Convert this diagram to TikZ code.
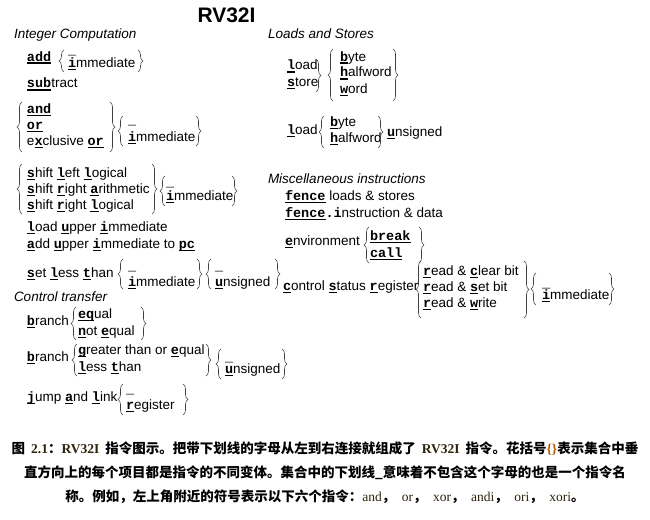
\documentclass[tikz,border=0pt]{standalone}
\usepackage{fontspec}
\usetikzlibrary{decorations.pathreplacing}
\setmainfont{Liberation Sans}
\newfontfamily\cwf{Liberation Mono}
\newfontfamily\cjk{Noto Sans CJK SC}
\newfontfamily\tms{Liberation Serif}
\newcommand\cwb{\cwf\bfseries}
\newcommand\U[1]{{\cwb\setbox0\hbox{#1}\rlap{\rule[-2.6pt]{\wd0}{1.1pt}}\box0}}
\newcommand\Bl{{\cwb\_}}
\definecolor{capbrown}{RGB}{45,35,12}
\newcommand\LB[3]{\draw[br] ({#1+5},#3) -- ({#1+5},#2);}
\newcommand\RB[3]{\draw[br] ({#1-5},#2) -- ({#1-5},#3);}
\newcommand\lat[1]{{\tms\mdseries\color{capbrown}#1}}
\newcommand\cm{{\cjk ，}\hspace{6.5pt}}
\begin{document}
\begin{tikzpicture}[x=1pt,y=-1pt,
  txt/.style={anchor=base west,inner sep=0pt,outer sep=0pt,font=\fontsize{13.5}{16}\selectfont},
  hd/.style={txt,font=\fontsize{13.5}{16}\selectfont\itshape},
  ttl/.style={anchor=base,inner sep=0pt,font=\fontsize{21}{24}\selectfont\bfseries},
  br/.style={draw=black!75,line width=0.6pt,decorate,decoration={brace,amplitude=5pt}},
  captxt/.style={anchor=base,inner sep=0pt,font=\fontsize{13.5}{16}\selectfont\bfseries}]
\path[use as bounding box,fill=white] (0,0) rectangle (650,519);
% title
\node[ttl] (title) at (226.5,23) {RV32I};
% ---------- Integer computation
\node[hd] (intc) at (14,38) {Integer Computation};
\node[txt] (add) at (27,61) {\U{add}};
\node[txt] (addbl) at (68,55) {\Bl};
\node[txt] (addi) at (68,67) {\U{i}mmediate};
\LB{59}{50}{72}\RB{143}{50}{72}
\node[txt] (sub) at (27,88) {\U{sub}tract};
\node[txt] (and) at (27,113) {\U{and}};
\node[txt] (or) at (27,129) {\U{or}};
\node[txt] (xor) at (27,145) {e\U{x}clusive \U{or}};
\LB{17}{102}{152}\RB{115}{102}{152}
\node[txt] (logbl) at (128,124) {\Bl};
\node[txt] (logi) at (128,141) {\U{i}mmediate};
\LB{118}{116}{146}\RB{201}{116}{146}
\node[txt] (sll) at (27,177) {\U{s}hift \U{l}eft \U{l}ogical};
\node[txt] (sra) at (27,193) {\U{s}hift \U{r}ight \U{a}rithmetic};
\node[txt] (srl) at (27,209) {\U{s}hift \U{r}ight \U{l}ogical};
\LB{17}{164}{214}\RB{157}{164}{214}
\node[txt] (shbl) at (166,186) {\Bl};
\node[txt] (shi) at (166,200) {\U{i}mmediate};
\LB{160}{176}{206}\RB{237}{176}{206}
\node[txt] (lui) at (27,231) {\U{l}oad \U{u}pper \U{i}mmediate};
\node[txt] (auipc) at (27,248) {\U{a}dd \U{u}pper \U{i}mmediate to \U{pc}};
\node[txt] (slt) at (27,277) {\U{s}et \U{l}ess \U{t}han};
\node[txt] (sltbl) at (128,270) {\Bl};
\node[txt] (slti) at (128,286) {\U{i}mmediate};
\LB{118}{259}{289}\RB{202}{259}{289}
\node[txt] (sltbl2) at (215,270) {\Bl};
\node[txt] (sltu) at (215,286) {\U{u}nsigned};
\LB{206}{259}{289}\RB{280}{259}{289}
% ---------- Control transfer
\node[hd] (ctrl) at (14,301) {Control transfer};
\node[txt] (br1) at (27,325) {\U{b}ranch};
\node[txt] (beq) at (78,318) {\U{eq}ual};
\node[txt] (bne) at (78,335) {\U{n}ot \U{e}qual};
\LB{71}{307}{340}\RB{146}{307}{340}
\node[txt] (br2) at (27,361) {\U{b}ranch};
\node[txt] (bge) at (78,354) {\U{g}reater than or \U{e}qual};
\node[txt] (blt) at (78,371) {\U{l}ess \U{t}han};
\LB{72}{344}{376}\RB{211}{344}{376}
\node[txt] (bbl) at (225,361) {\Bl};
\node[txt] (bu) at (225,373) {\U{u}nsigned};
\LB{216}{349}{379}\RB{287}{349}{379}
\node[txt] (jal) at (27,401) {\U{j}ump \U{a}nd \U{l}ink};
\node[txt] (jbl) at (126,393) {\Bl};
\node[txt] (jalr) at (126,409) {\U{r}egister};
\LB{118}{384}{415}\RB{188}{384}{415}
% ---------- Loads and stores
\node[hd] (ls) at (268,38) {Loads and Stores};
\node[txt] (ld) at (287,70) {\U{l}oad};
\node[txt] (st) at (287,86) {\U{s}tore};
\RB{321}{59}{92}
\node[txt] (lb) at (340,61) {\U{b}yte};
\node[txt] (lh) at (340,77) {\U{h}alfword};
\node[txt] (lw) at (340,93) {\U{w}ord};
\LB{328}{49}{101}\RB{398}{49}{101}
\node[txt] (ldu) at (287,134) {\U{l}oad};
\node[txt] (lbu) at (330,126) {\U{b}yte};
\node[txt] (lhu) at (330,142) {\U{h}alfword};
\LB{319}{116}{148}\RB{383}{116}{148}
\node[txt] (uns) at (387,136) {\U{u}nsigned};
% ---------- Misc
\node[hd] (misc) at (268,183) {Miscellaneous instructions};
\node[txt] (fence) at (285,200) {\U{fence} loads \& stores};
\node[txt] (fencei) at (285,217) {\U{fence}{\cwb.i}nstruction \& data};
\node[txt] (env) at (285,245) {\U{e}nvironment};
\node[txt] (ebreak) at (370,240) {\U{break}};
\node[txt] (ecall) at (370,257) {\U{call}};
\LB{364}{227}{263}\RB{424}{227}{263}
\node[txt] (csr) at (283,290) {\U{c}ontrol \U{s}tatus \U{r}egister};
\node[txt] (csrc) at (423,275) {\U{r}ead \& \U{c}lear bit};
\node[txt] (csrs) at (423,291) {\U{r}ead \& \U{s}et bit};
\node[txt] (csrw) at (423,307) {\U{r}ead \& \U{w}rite};
\LB{416}{261}{318}\RB{529}{261}{318}
\node[txt] (csrbl) at (542,287) {\Bl};
\node[txt] (csri) at (542,299) {\U{i}mmediate};
\LB{531}{273}{305}\RB{614}{273}{305}
% ---------- Caption
\node[captxt] (cap1) at (325,453) {{\cjk 图}\hspace{6pt}{\tms\color{capbrown}2.1}{\cjk ：}{\tms\color{capbrown}RV32I}\hspace{6pt}{\cjk 指令图示。把带下划线的字母从左到右连接就组成了}\hspace{6pt}{\tms\color{capbrown}RV32I}\hspace{6pt}{\cjk 指令。花括号}{\tms\color{orange!70!black}\{\}}{\cjk 表示集合中垂}};
\node[captxt] (cap2) at (325,477) {\cjk 直方向上的每个项目都是指令的不同变体。集合中的下划线\_意味着不包含这个字母的也是一个指令名};
\node[captxt] (cap3) at (325,501) {{\cjk 称。例如，左上角附近的符号表示以下六个指令：}\lat{and}\cm\lat{or}\cm\lat{xor}\cm\lat{andi}\cm\lat{ori}\cm\lat{xori}{\cjk 。}};
\end{tikzpicture}
\end{document}
